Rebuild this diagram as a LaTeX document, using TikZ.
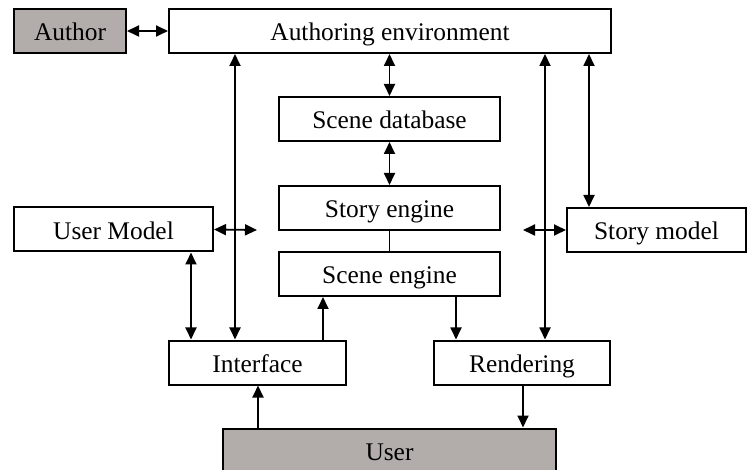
\documentclass[tikz,border=0pt]{standalone}
\usepackage{fontspec}
\setmainfont{Liberation Serif}
\usetikzlibrary{arrows.meta}
\definecolor{boxgrey}{RGB}{178,173,170}

\begin{document}
\begin{tikzpicture}[x=0.5pt,y=-0.5pt,
    block/.style={draw,line width=1pt,inner sep=0pt,minimum height=22pt,
        text height=10.5pt,text depth=0.5pt,
        font=\fontsize{12.7}{15}\selectfont},
    greyblock/.style={block,fill=boxgrey},
    every edge/.style={draw,line width=0.9pt},
    >={Triangle[length=6pt,width=5.5pt]}]
            \useasboundingbox (0,0) rectangle (755,470);

            \node[greyblock,minimum width=56pt] (author) at (70,31) {Author};
            \node[block,minimum width=221pt] (env) at (390,31) {Authoring environment};
            \node[block,minimum width=110.5pt] (sdb) at (389.5,119) {Scene database};
            \node[block,minimum width=110.5pt] (steng) at (389.5,208) {Story engine};
            \node[block,minimum width=110.5pt] (sceng) at (389.5,274) {Scene engine};
            \node[block,minimum width=99.5pt] (umodel) at (113.5,229.5) {User Model};
            \node[block,minimum width=89.5pt] (smodel) at (656.5,230) {Story model};
            \node[block,minimum width=88.5pt] (iface) at (257.5,362.5) {Interface};
            \node[block,minimum width=88pt] (rend) at (522,362.5) {Rendering};
            \node[greyblock,minimum width=166.5pt] (user) at (389.5,450.5) {User};

            % columns of the vertical connectors
            \coordinate (xum) at (191,0);
            \coordinate (xenv) at (235,0);
            \coordinate (xin) at (323,0);
            \coordinate (xout) at (456,0);
            \coordinate (xrend) at (545,0);
            \coordinate (xsm) at (589,0);
            \coordinate (xuin) at (258,0);
            \coordinate (xuout) at (523,0);

            % short arrows ending in the open
            \coordinate (umend) at (257,230);
            \coordinate (smend) at (523,230);

            \path [<->] (author) edge (env);
            \path [<->] (env.south -| sdb) edge (sdb);
            \path [<->] (sdb) edge (steng);
            \path [-] (steng) edge (sceng);

            \path [<->] (umodel.east) edge (umend);
            \path [<->] (smend) edge (smodel.west);

            \path [<->] (umodel.south -| xum) edge (iface.north -| xum);
            \path [<->] (env.south -| xenv) edge (iface.north -| xenv);
            \path [->] (iface.north -| xin) edge (sceng.south -| xin);
            \path [->] (sceng.south -| xout) edge (rend.north -| xout);
            \path [<->] (env.south -| xrend) edge (rend.north -| xrend);
            \path [<->] (env.south -| xsm) edge (smodel.north -| xsm);

            \path [->] (user.north -| xuin) edge (iface.south -| xuin);
            \path [->] (rend.south -| xuout) edge (user.north -| xuout);
        \end{tikzpicture}
\end{document}
